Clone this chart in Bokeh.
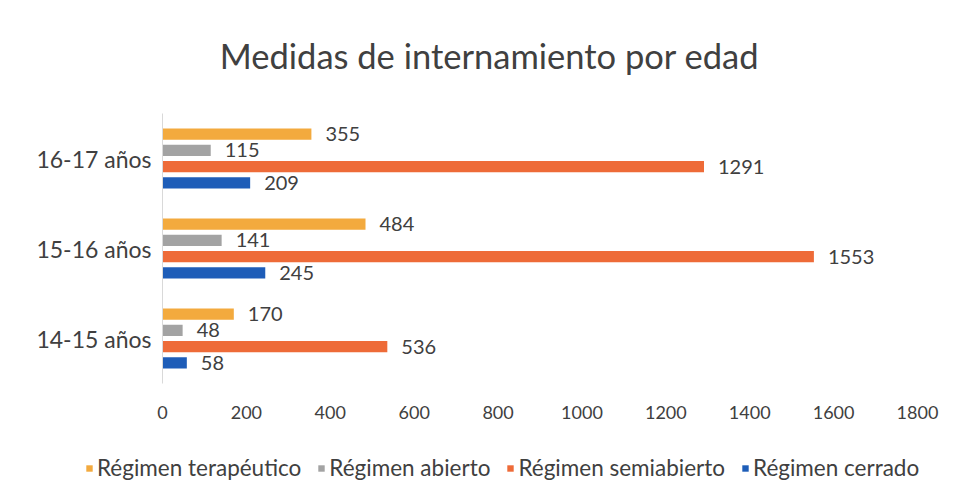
from bokeh.plotting import figure
from bokeh.layouts import column
from bokeh.models import (Range1d, FactorRange, ColumnDataSource, Legend, LegendItem,
                          FixedTicker)
from bokeh.transform import dodge
from bokeh.core.properties import value
from bokeh.embed import file_html
from bokeh.resources import INLINE

categories = ["14-15 años", "15-16 años", "16-17 años"]
terapeutico = [170, 484, 355]
abierto = [48, 141, 115]
semiabierto = [536, 1553, 1291]
cerrado = [58, 245, 209]
series_names = ["Régimen terapéutico", "Régimen abierto", "Régimen semiabierto", "Régimen cerrado"]
x_ticks = [0, 200, 400, 600, 800, 1000, 1200, 1400, 1600, 1800]
title_text = "Medidas de internamiento por edad"

colors = ["#F3AA3E", "#A3A3A3", "#EE6B38", "#1E5DB8"]
offsets = [0.27, 0.09, -0.09, -0.27]
FONT = "Lato"
TXT = "#404040"
W = 940


def blank(h):
    f = figure(width=W, height=h, output_backend="svg", toolbar_location=None,
               x_range=Range1d(0, W), y_range=Range1d(0, h),
               x_axis_location=None, y_axis_location=None,
               min_border=0, min_border_left=0, min_border_right=0,
               min_border_top=0, min_border_bottom=0, frame_align=False,
               outline_line_color=None, background_fill_color="white", border_fill_color="white")
    f.xgrid.grid_line_color = None
    f.ygrid.grid_line_color = None
    return f


# --- title strip ---
pt = blank(100)
pt.text(x=[489], y=[45], text=[title_text], text_align="center", text_baseline="alphabetic",
        text_font=value(FONT), text_font_size="34.5px", text_color=TXT)

# --- main chart ---
src = ColumnDataSource(dict(cat=categories, t=terapeutico, a=abierto, s=semiabierto, c=cerrado))

p = figure(width=W, height=330, output_backend="svg", toolbar_location=None,
           y_range=FactorRange(factors=categories), x_range=Range1d(0, 1800),
           min_border_left=162, min_border_right=23, min_border_top=13, min_border_bottom=47,
           outline_line_color=None, background_fill_color="white", border_fill_color="white")
p.xgrid.grid_line_color = None
p.ygrid.grid_line_color = None

for col, color, off in zip(["t", "a", "s", "c"], colors, offsets):
    p.hbar(y=dodge("cat", off, range=p.y_range), left=0, right=col, height=0.125,
           source=src, fill_color=color, line_color=None)
    p.text(x=col, y=dodge("cat", off, range=p.y_range), text=col, source=src,
           x_offset=14, text_baseline="middle", text_align="left",
           text_font=value(FONT), text_font_size="20px", text_color=TXT)

p.xaxis.ticker = FixedTicker(ticks=x_ticks)
p.xaxis.axis_line_color = None
p.xaxis.major_tick_line_color = None
p.xaxis.minor_tick_line_color = None
p.xaxis.major_label_standoff = 16
p.xaxis.major_label_text_font = FONT
p.xaxis.major_label_text_font_size = "18px"
p.xaxis.major_label_text_color = TXT

p.yaxis.axis_line_color = "#D9D9D9"
p.yaxis.major_tick_line_color = None
p.yaxis.major_label_standoff = 5
p.yaxis.major_label_text_font = FONT
p.yaxis.major_label_text_font_size = "23px"
p.yaxis.major_label_text_color = TXT

# --- legend strip ---
pl = blank(57)
dummy = ColumnDataSource(dict(y=[-1000], right=[0]))
items = []
for name, color in zip(series_names, colors):
    r = pl.hbar(y="y", right="right", left=0, height=1, source=dummy,
                fill_color=color, line_color=None)
    items.append(LegendItem(label=name, renderers=[r]))
legend = Legend(items=items, orientation="horizontal", location=(85, 6),
                glyph_width=8, glyph_height=8, label_standoff=4, spacing=16,
                padding=0, margin=0, border_line_color=None, background_fill_alpha=0,
                label_text_font=FONT, label_text_font_size="22.5px", label_text_color=TXT)
pl.add_layout(legend, "center")

layout = column(pt, p, pl, spacing=0)
open("out.html", "w").write(file_html(layout, INLINE))
